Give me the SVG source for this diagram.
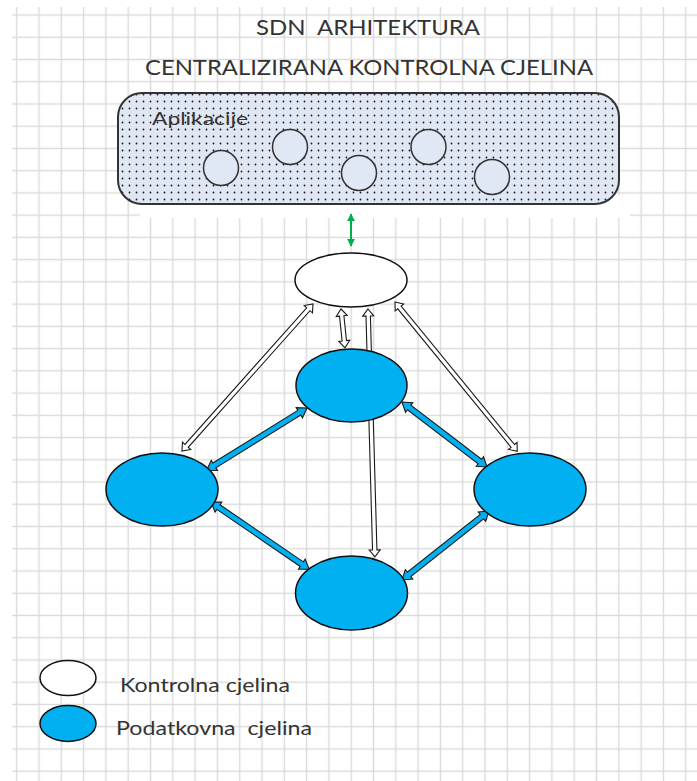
<svg xmlns="http://www.w3.org/2000/svg" width="697" height="781" viewBox="0 0 697 781">
<style>
.t{font-family:Lato,"Liberation Sans",sans-serif;fill:#333333;white-space:pre}
.hol{fill:#ffffff;stroke:#1a1a1a;stroke-width:1.1;stroke-linejoin:miter}
.blu{fill:#00b0f0;stroke:#1a1a1a;stroke-width:1.1}
.dn{fill:#00b0f0;stroke:#111;stroke-width:1.5}
.cn{fill:#ffffff;stroke:#111;stroke-width:1.5}
.app{fill:#e0e8f5;stroke:#333;stroke-width:1.5}
</style>
<defs>
<pattern id="grid" x="5.55" y="3.88" width="22.3" height="22.24" patternUnits="userSpaceOnUse">
<line x1="11.15" y1="0" x2="11.15" y2="22.24" stroke="#dadada" stroke-width="1.4"/>
<line x1="0" y1="11.12" x2="22.3" y2="11.12" stroke="#dadada" stroke-width="1.4"/>
</pattern>
<pattern id="dots" width="7" height="7" patternUnits="userSpaceOnUse">
<rect width="7" height="7" fill="#dfe7f4"/>
<circle cx="3.5" cy="3.5" r="0.9" fill="#1a1a1a"/>
</pattern>
<marker id="gh" viewBox="0 0 10 10" refX="9" refY="5" markerWidth="4" markerHeight="4" orient="auto-start-reverse" markerUnits="strokeWidth">
<path d="M0,0 L10,5 L0,10 Z" fill="#00b050"/>
</marker>
</defs>
<rect width="697" height="781" fill="#ffffff"/>
<rect x="12" y="7" width="685" height="774" fill="url(#grid)"/>
<rect x="140" y="195" width="490" height="23" fill="#ffffff"/>

<g id="title">
<text class="t" x="368" y="35" font-size="21" text-anchor="middle" textLength="224" lengthAdjust="spacingAndGlyphs" xml:space="preserve">SDN  ARHITEKTURA</text>
<text class="t" x="369" y="75" font-size="21" text-anchor="middle" textLength="448" lengthAdjust="spacingAndGlyphs">CENTRALIZIRANA KONTROLNA CJELINA</text>
</g>

<g id="aplikacije">
<rect x="118" y="93" width="501" height="111" rx="24" fill="url(#dots)" stroke="#333" stroke-width="2"/>
<text class="t" x="152" y="125" font-size="18" textLength="96" lengthAdjust="spacingAndGlyphs">Aplikacije</text>
<circle class="app" cx="221" cy="168" r="17.5"/>
<circle class="app" cx="290" cy="147" r="17.5"/>
<circle class="app" cx="359" cy="173" r="17.5"/>
<circle class="app" cx="428.5" cy="147" r="17.5"/>
<circle class="app" cx="492" cy="177" r="17.5"/>
</g>

<g id="connectors">
<line x1="351" y1="214" x2="351" y2="246" stroke="#00b050" stroke-width="2" marker-start="url(#gh)" marker-end="url(#gh)"/>
<path class="hol" transform="translate(313,304) rotate(131.7)" d="M0,0 L7,-5.5 L7,-2.2 L190,-2.2 L190,-5.5 L197,0 L190,5.5 L190,2.2 L7,2.2 L7,5.5 Z"/>
<path class="hol" transform="translate(395,302) rotate(50.7)" d="M0,0 L7,-5.5 L7,-2.2 L186,-2.2 L186,-5.5 L193,0 L186,5.5 L186,2.2 L7,2.2 L7,5.5 Z"/>
<path class="hol" transform="translate(341,309) rotate(84.1)" d="M0,0 L7,-5.5 L7,-2.2 L32,-2.2 L32,-5.5 L39,0 L32,5.5 L32,2.2 L7,2.2 L7,5.5 Z"/>
<path class="hol" transform="translate(368,309) rotate(88.4)" d="M0,0 L7,-5.5 L7,-2.2 L241,-2.2 L241,-5.5 L248,0 L241,5.5 L241,2.2 L7,2.2 L7,5.5 Z"/>
<path class="blu" transform="translate(307,408) rotate(148.2)" d="M0,0 L9,-6 L9,-2.8 L109,-2.8 L109,-6 L118,0 L109,6 L109,2.8 L9,2.8 L9,6 Z"/>
<path class="blu" transform="translate(402,402) rotate(37.4)" d="M0,0 L9,-6 L9,-2.8 L98,-2.8 L98,-6 L107,0 L98,6 L98,2.8 L9,2.8 L9,6 Z"/>
<path class="blu" transform="translate(211,502) rotate(34.4)" d="M0,0 L9,-6 L9,-2.8 L110,-2.8 L110,-6 L119,0 L110,6 L110,2.8 L9,2.8 L9,6 Z"/>
<path class="blu" transform="translate(489,511) rotate(141.6)" d="M0,0 L9,-6 L9,-2.8 L102,-2.8 L102,-6 L111,0 L102,6 L102,2.8 L9,2.8 L9,6 Z"/>
</g>

<g id="kontrola">
<ellipse class="cn" cx="351" cy="280" rx="56" ry="27"/>
</g>
<g id="podatkovna-gore">
<ellipse class="dn" cx="351.5" cy="385.5" rx="55.5" ry="36.5"/>
</g>
<g id="podatkovna-lijevo">
<ellipse class="dn" cx="162" cy="489.5" rx="56" ry="36.5"/>
</g>
<g id="podatkovna-desno">
<ellipse class="dn" cx="530" cy="489.5" rx="56" ry="36.5"/>
</g>
<g id="podatkovna-dolje">
<ellipse class="dn" cx="351.5" cy="593" rx="56" ry="37"/>
</g>

<g id="legenda">
<ellipse class="cn" cx="68" cy="678" rx="28" ry="17.5"/>
<ellipse class="dn" cx="68" cy="723.5" rx="28" ry="18"/>
<text class="t" x="120" y="692" font-size="19" textLength="170" lengthAdjust="spacingAndGlyphs">Kontrolna cjelina</text>
<text class="t" x="116" y="735" font-size="19" textLength="196" lengthAdjust="spacingAndGlyphs" xml:space="preserve">Podatkovna  cjelina</text>
</g>
</svg>
